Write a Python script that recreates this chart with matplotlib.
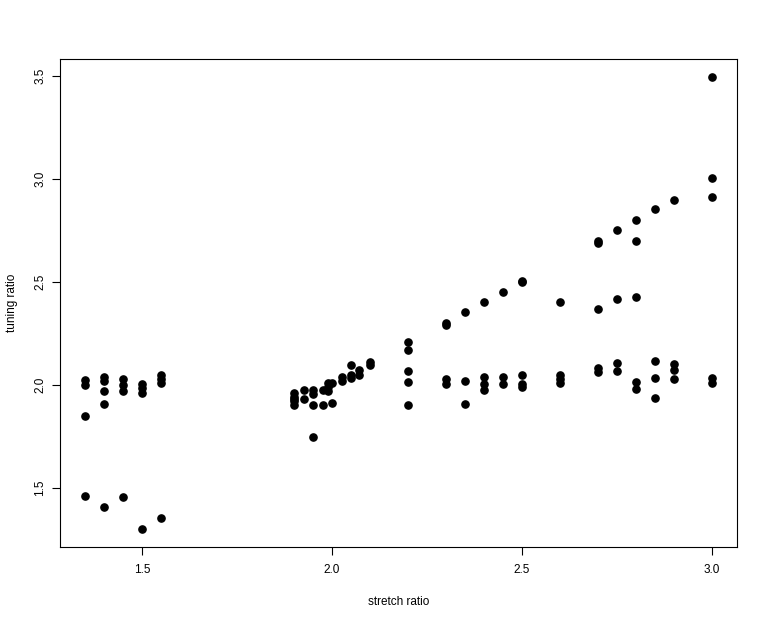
import numpy as np
import matplotlib.pyplot as plt

plt.rcParams['font.family'] = ['Liberation Sans', 'DejaVu Sans']

# stretch ratio and measured tuning ratio, one entry per point
stretch = [
    1.35, 1.35, 1.35, 1.35,
    1.40, 1.40, 1.40, 1.40, 1.40,
    1.45, 1.45, 1.45, 1.45,
    1.50, 1.50, 1.50, 1.50,
    1.55, 1.55, 1.55, 1.55,
    1.90, 1.90, 1.90, 1.90, 1.90,
    1.925, 1.925,
    1.95, 1.95, 1.95, 1.95,
    1.975, 1.975,
    1.99, 1.99, 1.99, 2.00, 2.00,
    2.025, 2.025,
    2.05, 2.05, 2.05,
    2.07, 2.07,
    2.10, 2.10,
    2.20, 2.20, 2.20, 2.20, 2.20,
    2.30, 2.30, 2.30, 2.30,
    2.35, 2.35, 2.35,
    2.40, 2.40, 2.40, 2.40,
    2.45, 2.45, 2.45,
    2.50, 2.50, 2.50, 2.50, 2.50,
    2.60, 2.60, 2.60, 2.60,
    2.70, 2.70, 2.70, 2.70, 2.70,
    2.75, 2.75, 2.75, 2.75,
    2.80, 2.80, 2.80, 2.80, 2.80,
    2.85, 2.85, 2.85, 2.85,
    2.90, 2.90, 2.90, 2.90,
    3.00, 3.00, 3.00, 3.00, 3.00,
]
tuning = [
    2.025, 2.00, 1.85, 1.46,
    2.04, 2.02, 1.972, 1.909, 1.407,
    2.03, 2.00, 1.97, 1.456,
    2.006, 1.987, 1.962, 1.30,
    2.05, 2.03, 2.01, 1.354,
    1.904, 1.93, 1.94, 1.96, 1.92,
    1.977, 1.93,
    1.977, 1.957, 1.904, 1.748,
    1.977, 1.904,
    2.01, 1.99, 1.97, 2.01, 1.91,
    2.04, 2.02,
    2.094, 2.05, 2.035,
    2.07, 2.05,
    2.11, 2.094,
    2.206, 2.17, 2.065, 2.016, 1.904,
    2.30, 2.29, 2.026, 2.006,
    2.356, 2.02, 1.909,
    2.40, 2.04, 2.006, 1.977,
    2.449, 2.04, 2.006,
    2.505, 2.50, 2.05, 2.006, 1.99,
    2.40, 2.05, 2.026, 2.01,
    2.70, 2.69, 2.366, 2.084, 2.06,
    2.75, 2.415, 2.108, 2.065,
    2.80, 2.70, 2.425, 2.016, 1.982,
    2.853, 2.118, 2.035, 1.938,
    2.90, 2.10, 2.07, 2.03,
    3.495, 3.004, 2.911, 2.035, 2.01,
]

x_ticks = [1.5, 2.0, 2.5, 3.0]
y_ticks = [1.5, 2.0, 2.5, 3.0, 3.5]

fig = plt.figure(figsize=(7.67, 6.22), dpi=100)
ax = fig.add_axes([60/767, 75/622, 677/767, 488/622])

ax.plot(stretch, tuning, 'o', color='black', ms=5.2, ls='none')

# R-style 4% padding
xr = max(stretch) - min(stretch)
yr = max(tuning) - min(tuning)
ax.set_xlim(min(stretch) - 0.04*xr, max(stretch) + 0.04*xr)
ax.set_ylim(min(tuning) - 0.04*yr, max(tuning) + 0.04*yr)

ax.set_xticks(x_ticks, labels=[f'{t:.1f}' for t in x_ticks])
ax.set_yticks(y_ticks, labels=[f'{t:.1f}' for t in y_ticks])
for lab in ax.get_yticklabels():
    lab.set_rotation(90)
    lab.set_va('center')
    lab.set_ha('center')
ax.tick_params(direction='out', length=5.5, width=0.8, labelsize=8.5)
ax.tick_params(axis='x', pad=7)
ax.tick_params(axis='y', pad=8.6)

for s in ax.spines.values():
    s.set_linewidth(0.8)

ax.set_xlabel('stretch ratio', fontsize=8.5)
ax.set_ylabel('tuning ratio', fontsize=8.5)
ax.xaxis.set_label_coords(0.5, -55/488)
ax.yaxis.set_label_coords(-48/677, 0.5)
ax.xaxis.label.set_va('center')
ax.yaxis.label.set_va('center')

fig.savefig('out.png', dpi=100)
